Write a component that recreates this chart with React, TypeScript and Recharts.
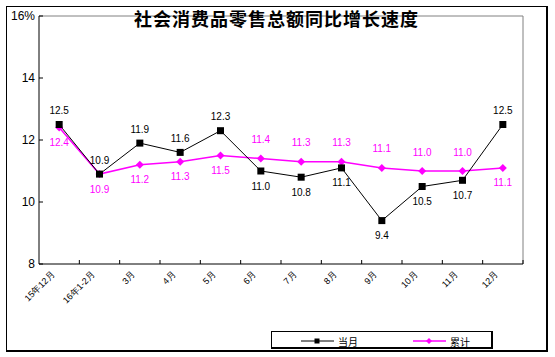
import React from 'react';
import {
  LineChart, Line, XAxis, YAxis, CartesianGrid, Legend, LabelList,
} from 'recharts';

const categories = ['15年12月', '16年1-2月', '3月', '4月', '5月', '6月', '7月', '8月', '9月', '10月', '11月', '12月'];
const monthly = [12.5, 10.9, 11.9, 11.6, 12.3, 11.0, 10.8, 11.1, 9.4, 10.5, 10.7, 12.5];
const cumulative = [12.4, 10.9, 11.2, 11.3, 11.5, 11.4, 11.3, 11.3, 11.1, 11.0, 11.0, 11.1];
const yTicks = [8, 10, 12, 14, 16];
const seriesNames = { monthly: '当月', cumulative: '累计' };
const title = '社会消费品零售总额同比增长速度';

const data = categories.map((c, i) => ({ name: c, monthly: monthly[i], cumulative: cumulative[i] }));

const FONT = 'Liberation Sans, Arial, sans-serif';
const MAGENTA = '#FF00FF';

const SquareDot = (props: any) => {
  const { cx, cy } = props;
  if (cx == null || cy == null) return null;
  return <rect x={cx - 3.5} y={cy - 3.5} width={7} height={7} fill="#000" />;
};
const DiamondDot = (props: any) => {
  const { cx, cy } = props;
  if (cx == null || cy == null) return null;
  return <polygon points={`${cx},${cy - 4} ${cx + 4},${cy} ${cx},${cy + 4} ${cx - 4},${cy}`} fill={MAGENTA} />;
};

const makeLabel = (series: 'monthly' | 'cumulative', color: string, upOff: number, downOff: number) => (props: any) => {
  const { x, y, index, value } = props;
  const own = series === 'monthly' ? monthly[index] : cumulative[index];
  const other = series === 'monthly' ? cumulative[index] : monthly[index];
  const above = series === 'monthly' ? own >= other : own > other;
  return (
    <text x={x} y={y + (above ? upOff : downOff)} textAnchor="middle" dominantBaseline="central"
      fontSize={10} fontFamily={FONT} fill={color}>
      {Number(value).toFixed(1)}
    </text>
  );
};

const XTick = (props: any) => {
  const { x, y, payload } = props;
  const off = payload && payload.offset ? payload.offset : 0;
  return (
    <g>
      {off ? <line x1={x + off} y1={y} x2={x + off} y2={y - 4} stroke="#000" /> : null}
      <text x={x - 4} y={y + 11} textAnchor="end" fontSize={9} fontFamily={FONT} fill="#000"
        transform={`rotate(-45, ${x - 4}, ${y + 11})`}>
        {payload.value}
      </text>
    </g>
  );
};

const LegendContent = (props: any) => {
  const items = (props.payload || []) as any[];
  return (
    <div style={{
      width: 222, height: 18, boxSizing: 'border-box', border: '1px solid #000',
      borderRightWidth: 2, borderBottomWidth: 2, background: '#fff', position: 'relative',
    }}>
      <svg width={220} height={16} style={{ position: 'absolute', left: 0, top: 0 }}>
        {items.map((it, i) => {
          const x0 = i === 0 ? 29 : 141;
          const isMonthly = it.dataKey === 'monthly';
          return (
            <g key={i}>
              <line x1={x0} y1={9} x2={x0 + 33} y2={9} stroke={it.color} strokeWidth={isMonthly ? 1 : 1.5} />
              {isMonthly
                ? <rect x={x0 + 13.5} y={6.5} width={5} height={5} fill="#000" />
                : <polygon points={`${x0 + 16},${6} ${x0 + 19},${9} ${x0 + 16},${12} ${x0 + 13},${9}`} fill={MAGENTA} />}
              <text x={x0 + 37} y={9} dominantBaseline="central" fontSize={10}
                fontFamily="Noto Sans CJK SC, sans-serif" fill="#000">{it.value}</text>
            </g>
          );
        })}
      </svg>
    </div>
  );
};

export default function App() {
  return (
    <div style={{ position: 'absolute', left: 0, top: 0, width: 555, height: 357, background: '#fff' }}>
      <div style={{
        position: 'absolute', left: 6, top: 6, width: 542, height: 346, boxSizing: 'border-box',
        border: '1px solid #000', borderRightWidth: 2, borderBottomWidth: 2,
      }} />
      <div style={{ position: 'absolute', left: 0, top: 0 }}>
        <LineChart width={555} height={357} data={data} margin={{ top: 16, right: 32, bottom: 35, left: 6 }}>
          <CartesianGrid
            stroke="#808080"
            horizontalCoordinatesGenerator={(p: any) => [p.offset.top]}
            verticalCoordinatesGenerator={(p: any) => [p.offset.left + p.offset.width]}
          />
          <XAxis dataKey="name" scale="band" height={40} interval={0} tickLine={false} tickSize={0} tickMargin={0}
            axisLine={{ stroke: '#000' }} tick={<XTick />} />
          <YAxis width={33} domain={[8, 16]} ticks={yTicks} interval={0} tickSize={-4} tickMargin={8}
            axisLine={{ stroke: '#000' }} tickLine={{ stroke: '#000' }}
            tick={{ fontSize: 12, fontFamily: FONT, fill: '#000' }}
            tickFormatter={(v: number) => (v === 16 ? '16%' : String(v))} />
          <Legend content={<LegendContent />}
            wrapperStyle={{ position: 'absolute', left: 271, top: 331, width: 222, height: 18 }} />
          <Line dataKey="cumulative" name={seriesNames.cumulative} stroke={MAGENTA} strokeWidth={1.5}
            dot={<DiamondDot />} activeDot={false} isAnimationActive={false}>
            <LabelList dataKey="cumulative" content={makeLabel('cumulative', MAGENTA, -19, 15)} />
          </Line>
          <Line dataKey="monthly" name={seriesNames.monthly} stroke="#000" strokeWidth={1}
            dot={<SquareDot />} activeDot={false} isAnimationActive={false}>
            <LabelList dataKey="monthly" content={makeLabel('monthly', '#000', -14, 15)} />
          </Line>
        </LineChart>
      </div>
      <div style={{
        position: 'absolute', left: 0, width: 555, top: 8, textAlign: 'center', paddingLeft: 0,
        fontFamily: 'Noto Sans CJK SC, sans-serif', fontWeight: 700, fontSize: 18, lineHeight: '20px',
        letterSpacing: 1, color: '#000', whiteSpace: 'nowrap',
      }}>
        <span style={{ position: 'relative', left: -1 }}>{title}</span>
      </div>
    </div>
  );
}
